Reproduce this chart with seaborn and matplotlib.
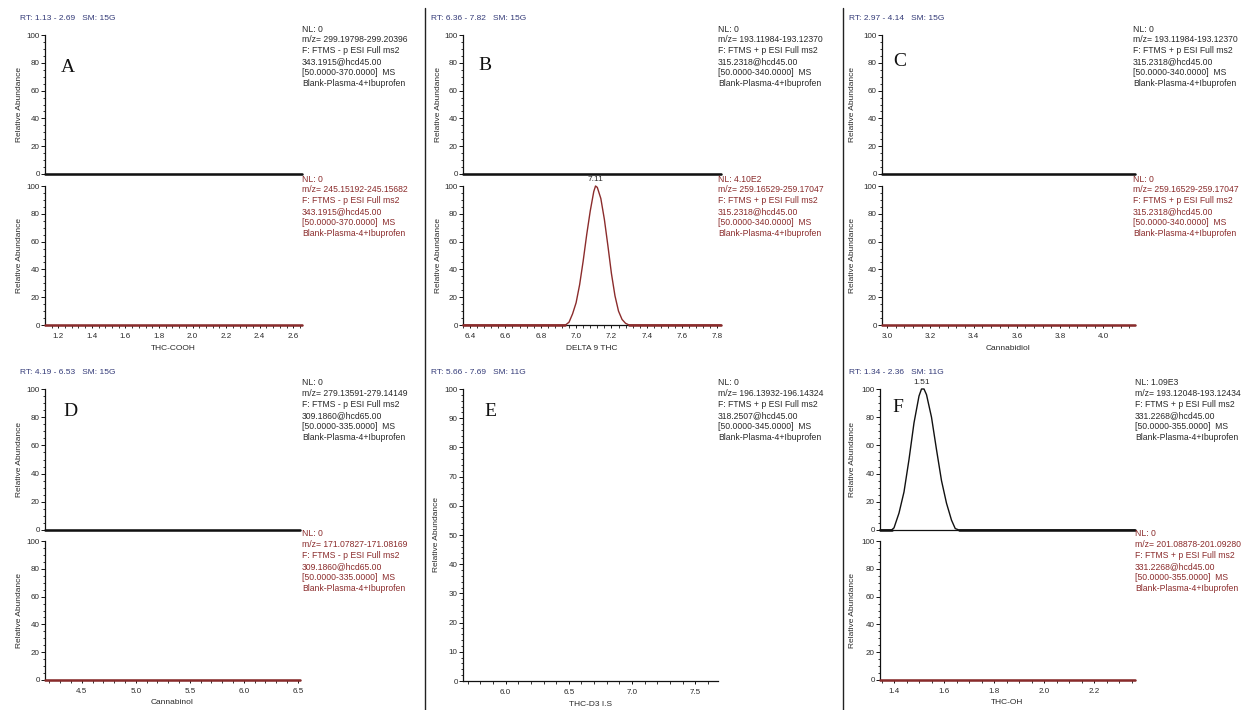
import matplotlib
matplotlib.use("Agg")
import numpy as np
import pandas as pd
import seaborn as sns
import matplotlib.pyplot as plt
from matplotlib.ticker import MultipleLocator, FormatStrFormatter
from matplotlib.lines import Line2D

# ---------------- data ----------------
rt_titles = {
    "A": "RT: 1.13 - 2.69   SM: 15G", "B": "RT: 6.36 - 7.82   SM: 15G",
    "C": "RT: 2.97 - 4.14   SM: 15G", "D": "RT: 4.19 - 6.53   SM: 15G",
    "E": "RT: 5.66 - 7.69   SM: 11G", "F": "RT: 1.34 - 2.36   SM: 11G",
}
compound_labels = {"A": "THC-COOH", "B": "DELTA 9 THC", "C": "Cannabidiol",
                   "D": "Cannabinol", "E": "THC-D3 I.S", "F": "THC-OH"}
x_limits = {"A": (1.121, 2.652), "B": (6.36, 7.82), "C": (2.977, 4.146),
            "D": (4.16, 6.52), "E": (5.663, 7.68), "F": (1.344, 2.364)}

# flat (NL: 0) traces
A_top_x = [1.121, 2.652]; A_top_y = [0, 0]
A_bot_x = [1.121, 2.652]; A_bot_y = [0, 0]
B_top_x = [6.36, 7.82];   B_top_y = [0, 0]
C_top_x = [2.977, 4.146]; C_top_y = [0, 0]
C_bot_x = [2.977, 4.146]; C_bot_y = [0, 0]
D_top_x = [4.16, 6.52];   D_top_y = [0, 0]
D_bot_x = [4.16, 6.52];   D_bot_y = [0, 0]
F_bot_x = [1.344, 2.364]; F_bot_y = [0, 0]

# peak traces
B_bot_x = [6.36, 6.90, 6.94, 6.96, 6.98, 7.00, 7.02, 7.04, 7.06, 7.08, 7.10, 7.11,
           7.12, 7.14, 7.16, 7.18, 7.20, 7.22, 7.24, 7.26, 7.28, 7.30, 7.82]
B_bot_y = [0, 0, 0, 2, 8, 16, 29, 46, 65, 82, 96, 100,
           99, 91, 76, 57, 37, 21, 10, 4, 1.2, 0, 0]
F_top_x = [1.344, 1.39, 1.40, 1.42, 1.44, 1.46, 1.48, 1.50, 1.51, 1.52, 1.53,
           1.55, 1.57, 1.59, 1.61, 1.63, 1.645, 1.66, 2.364]
F_top_y = [0, 0, 1.5, 12, 27, 50, 76, 95, 100, 100, 96,
           80, 57, 35, 19, 7, 1, 0, 0]

peak_labels = {"B": (7.11, "7.11"), "F": (1.51, "1.51")}

info_top = {
    "A": ["NL: 0", "m/z= 299.19798-299.20396", "F: FTMS - p ESI Full ms2", "343.1915@hcd45.00",
          "[50.0000-370.0000]  MS", "Blank-Plasma-4+Ibuprofen"],
    "B": ["NL: 0", "m/z= 193.11984-193.12370", "F: FTMS + p ESI Full ms2", "315.2318@hcd45.00",
          "[50.0000-340.0000]  MS", "Blank-Plasma-4+Ibuprofen"],
    "C": ["NL: 0", "m/z= 193.11984-193.12370", "F: FTMS + p ESI Full ms2", "315.2318@hcd45.00",
          "[50.0000-340.0000]  MS", "Blank-Plasma-4+Ibuprofen"],
    "D": ["NL: 0", "m/z= 279.13591-279.14149", "F: FTMS - p ESI Full ms2", "309.1860@hcd65.00",
          "[50.0000-335.0000]  MS", "Blank-Plasma-4+Ibuprofen"],
    "E": ["NL: 0", "m/z= 196.13932-196.14324", "F: FTMS + p ESI Full ms2", "318.2507@hcd45.00",
          "[50.0000-345.0000]  MS", "Blank-Plasma-4+Ibuprofen"],
    "F": ["NL: 1.09E3", "m/z= 193.12048-193.12434", "F: FTMS + p ESI Full ms2", "331.2268@hcd45.00",
          "[50.0000-355.0000]  MS", "Blank-Plasma-4+Ibuprofen"],
}
info_bot = {
    "A": ["NL: 0", "m/z= 245.15192-245.15682", "F: FTMS - p ESI Full ms2", "343.1915@hcd45.00",
          "[50.0000-370.0000]  MS", "Blank-Plasma-4+Ibuprofen"],
    "B": ["NL: 4.10E2", "m/z= 259.16529-259.17047", "F: FTMS + p ESI Full ms2", "315.2318@hcd45.00",
          "[50.0000-340.0000]  MS", "Blank-Plasma-4+Ibuprofen"],
    "C": ["NL: 0", "m/z= 259.16529-259.17047", "F: FTMS + p ESI Full ms2", "315.2318@hcd45.00",
          "[50.0000-340.0000]  MS", "Blank-Plasma-4+Ibuprofen"],
    "D": ["NL: 0", "m/z= 171.07827-171.08169", "F: FTMS - p ESI Full ms2", "309.1860@hcd65.00",
          "[50.0000-335.0000]  MS", "Blank-Plasma-4+Ibuprofen"],
    "F": ["NL: 0", "m/z= 201.08878-201.09280", "F: FTMS + p ESI Full ms2", "331.2268@hcd45.00",
          "[50.0000-355.0000]  MS", "Blank-Plasma-4+Ibuprofen"],
}

# ---------------- style ----------------
sns.set_style("ticks")
plt.rcParams["font.family"] = ["Liberation Sans", "DejaVu Sans"]

W, H = 1247, 710
fig = plt.figure(figsize=(W / 100, H / 100), dpi=100)
fig.patch.set_facecolor("white")

BLACK = "#111111"
RED = "#8b2c2c"
TITLE_C = "#343b78"
TXT_C = "#2a2a2a"
TICK_FS = 5.8
INFO_FS = 6.2


def add_ax(l, r, t, b):
    return fig.add_axes([l / W, 1 - b / H, (r - l) / W, (b - t) / H])


def ftext(x, y, s, **kw):
    return fig.text(x / W, 1 - y / H, s, **kw)


layout = {
    "A": dict(l=45, r=302, title=(20, 18), ylab=20, letter=(68, 68), info_x=302),
    "B": dict(l=463, r=721, title=(431, 18), ylab=438, letter=(485, 66), info_x=718),
    "C": dict(l=882, r=1135, title=(849, 18), ylab=853, letter=(900, 62), info_x=1133),
    "D": dict(l=45, r=300, title=(20, 373), ylab=20, letter=(70, 412), info_x=302),
    "E": dict(l=463, r=718, title=(431, 373), ylab=437, letter=(490, 412), info_x=718),
    "F": dict(l=880, r=1135, title=(849, 373), ylab=853, letter=(898, 407), info_x=1135),
}
row_top = dict(upper=(35, 174), lower=(186, 325), info=(29, 179))
row_bot = dict(upper=(389, 530), lower=(541, 680), info=(383, 534))
xmajor = {"A": 0.2, "B": 0.2, "C": 0.2, "D": 0.5, "E": 0.5, "F": 0.2}
xminor = {"A": 0.04, "B": 0.04, "C": 0.04, "D": 0.1, "E": 0.1, "F": 0.05}

traces = {
    ("A", "upper"): (A_top_x, A_top_y), ("A", "lower"): (A_bot_x, A_bot_y),
    ("B", "upper"): (B_top_x, B_top_y), ("B", "lower"): (B_bot_x, B_bot_y),
    ("C", "upper"): (C_top_x, C_top_y), ("C", "lower"): (C_bot_x, C_bot_y),
    ("D", "upper"): (D_top_x, D_top_y), ("D", "lower"): (D_bot_x, D_bot_y),
    ("F", "upper"): (F_top_x, F_top_y), ("F", "lower"): (F_bot_x, F_bot_y),
}


def style_axis(ax, key, show_x, ymaj=20, ymin=5):
    ax.set_facecolor("none")
    for s in ("top", "right"):
        ax.spines[s].set_visible(False)
    ax.spines["left"].set_color(BLACK)
    ax.spines["left"].set_linewidth(0.9)
    ax.spines["bottom"].set_color(BLACK)
    ax.spines["bottom"].set_linewidth(0.9)
    ax.set_ylim(0, 100)
    ax.set_xlim(*x_limits[key])
    ax.yaxis.set_major_locator(MultipleLocator(ymaj))
    ax.yaxis.set_minor_locator(MultipleLocator(ymin))
    ax.tick_params(axis="y", which="major", direction="out", length=3.0, width=0.7,
                   pad=0.8, labelsize=TICK_FS, labelcolor=TXT_C, color=BLACK)
    ax.tick_params(axis="y", which="minor", direction="out", length=1.6, width=0.6, color=BLACK)
    if show_x:
        ax.xaxis.set_major_locator(MultipleLocator(xmajor[key]))
        ax.xaxis.set_minor_locator(MultipleLocator(xminor[key]))
        ax.xaxis.set_major_formatter(FormatStrFormatter("%.1f"))
        ax.tick_params(axis="x", which="major", direction="out", length=2.4, width=0.7,
                       pad=3.6, labelsize=TICK_FS, labelcolor=TXT_C, color=BLACK)
        ax.tick_params(axis="x", which="minor", direction="out", length=2.0, width=0.6, color=BLACK)
    else:
        ax.tick_params(axis="x", which="both", bottom=False, labelbottom=False)
    ax.set_xlabel("")
    ax.set_ylabel("")


def info_block(x, y0, lines, color):
    for i, s in enumerate(lines):
        ftext(x, y0 + i * 10.9, s, fontsize=INFO_FS, color=color, ha="left", va="center")


for key, lay in layout.items():
    row = row_top if key in "ABC" else row_bot
    l, r = lay["l"], lay["r"]
    ftext(lay["title"][0], lay["title"][1], rt_titles[key], fontsize=6.0, color=TITLE_C,
          ha="left", va="center")
    if key == "E":
        t, b = row["upper"][0], row["lower"][1] + 1
        ax = add_ax(l, r, t, b)
        style_axis(ax, key, True, ymaj=10, ymin=2)
        ftext(lay["ylab"], (t + b) / 2, "Relative Abundance", rotation=90, fontsize=6.0,
              color=TXT_C, ha="center", va="center")
        ftext((l + r) / 2, b + 23, compound_labels[key], fontsize=6.0, color=TXT_C,
              ha="center", va="center")
        info_block(lay["info_x"], row["info"][0], info_top[key], TXT_C)
        ftext(lay["letter"][0], lay["letter"][1], key, fontsize=14,
              family=["Liberation Serif", "DejaVu Serif"], color=BLACK, ha="center", va="center")
        continue
    for part in ("upper", "lower"):
        t, b = row[part]
        ax = add_ax(l, r, t, b)
        style_axis(ax, key, part == "lower")
        xs, ys = traces[(key, part)]
        color = BLACK if part == "upper" else RED
        flat = max(ys) == 0
        sns.lineplot(x=np.array(xs), y=np.array(ys, dtype=float), ax=ax, color=color,
                     linewidth=1.8 if flat else 1.0, clip_on=False, zorder=5,
                     legend=False, sort=False)
        if not flat:
            # emphasise the zero baseline like the instrument output
            base = np.array(ys, dtype=float) == 0
            xb = np.array(xs)[base]
            for seg in ((xb[xb < peak_labels[key][0]].min(), xb[xb < peak_labels[key][0]].max()),
                        (xb[xb > peak_labels[key][0]].min(), xb[xb > peak_labels[key][0]].max())):
                ax.plot(seg, [0, 0], color=color, lw=1.8, clip_on=False, zorder=5)
            px, lab = peak_labels[key]
            ax.annotate(lab, (px, 100), xytext=(0, 2.5), textcoords="offset points",
                        ha="center", va="bottom", fontsize=6.0, color=TXT_C,
                        annotation_clip=False)
        ax.set_xlabel("")
        ax.set_ylabel("")
        ftext(lay["ylab"], (t + b) / 2, "Relative Abundance", rotation=90, fontsize=6.0,
              color=TXT_C, ha="center", va="center")
        if part == "lower":
            ftext((l + r) / 2, b + 23, compound_labels[key], fontsize=6.0, color=TXT_C,
                  ha="center", va="center")
    info_block(lay["info_x"], row["info"][0], info_top[key], TXT_C)
    info_block(lay["info_x"], row["info"][1], info_bot[key], RED)
    ftext(lay["letter"][0], lay["letter"][1], key, fontsize=14,
          family=["Liberation Serif", "DejaVu Serif"], color=BLACK, ha="center", va="center")

# panel separators
for xs in (425, 843):
    fig.add_artist(Line2D([xs / W, xs / W], [1 - 8 / H, 0], color="#222222", lw=1.0))

fig.savefig("out.png", dpi=100, facecolor="white")
